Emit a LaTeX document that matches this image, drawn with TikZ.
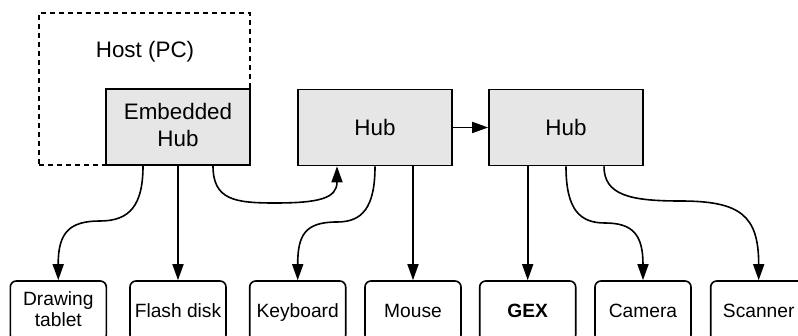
\documentclass[tikz,border=0pt]{standalone}
\usepackage{fontspec}
\setmainfont{Liberation Sans}
\usetikzlibrary{arrows.meta}
\definecolor{hubfill}{HTML}{E6E6E6}
\newcommand{\mystrut}{\rule[-0.19em]{0pt}{1.09em}}
\begin{document}
\begin{tikzpicture}[x=1pt,y=-1pt,
  bigtext/.style={font=\fontsize{22.4}{27}\selectfont, align=center},
  smalltext/.style={font=\fontsize{19.2}{21}\selectfont, align=center},
  hubbox/.style={draw, line width=1.6pt, fill=hubfill, minimum height=76pt, inner sep=0pt, bigtext, execute at begin node=\mystrut, execute at end node=\mystrut},
  devbox/.style={draw, line width=1.6pt, rounded corners=6pt, minimum width=96pt, minimum height=60pt, inner sep=0pt, smalltext, execute at begin node=\mystrut, execute at end node=\mystrut},
  conn/.style={line width=1.6pt, -{Triangle[length=16pt,width=11pt]}}]
\clip (0,0) rectangle (798,336);
\useasboundingbox (0,0) rectangle (798,336);
% host
\node[draw, dashed, dash pattern=on 5pt off 4pt, line width=1.6pt, minimum width=211pt, minimum height=152pt, inner sep=0pt] (host) at (144.5,89) {};
\node[bigtext] (hostlabel) at (145,50) {\mystrut Host (PC)};
% hubs
\node[hubbox, minimum width=144pt] (emb) at (178,127) {Embedded\\Hub};
\node[hubbox, minimum width=154pt] (hubA) at (375,127.5) {Hub};
\node[hubbox, minimum width=154pt] (hubB) at (566,127.5) {Hub};
% devices
\node[devbox] (tablet) at (58.3,311) {Drawing\\tablet};
\node[devbox] (flash) at (178,311) {Flash disk};
\node[devbox] (kbd) at (297.7,311) {Keyboard};
\node[devbox] (mouse) at (413,311) {Mouse};
\node[devbox] (gex) at (527.7,311) {\bfseries GEX};
\node[devbox] (camera) at (643,311) {Camera};
\node[devbox] (scanner) at (758.7,311) {Scanner};
% connectors
\draw[conn] ([xshift=-35pt]emb.south) .. controls (143,205) and (130,221) .. (100,221) .. controls (70,221) and (58,232) .. (tablet.north);
\draw[conn] (flash.north |- emb.south) -- (flash.north);
\draw[conn] ([xshift=35pt]emb.south) .. controls (213,200) and (235,203) .. (275,203) .. controls (320,203) and (337,198) .. ([xshift=-38pt]hubA.south);
\draw[conn] (hubA.south) .. controls (375,208) and (362,222) .. (337,222) .. controls (305,222) and (297.7,235) .. (kbd.north);
\draw[conn] (mouse.north |- hubA.south) -- (mouse.north);
\draw[conn] (hubA.east) -- (hubB.west);
\draw[conn] (gex.north |- hubB.south) -- (gex.north);
\draw[conn] (hubB.south) .. controls (566,210) and (580,223) .. (605,223) .. controls (633,223) and (643,235) .. (camera.north);
\draw[conn] ([xshift=38pt]hubB.south) .. controls (604,195) and (630,201) .. (680,201) .. controls (740,201) and (758.7,215) .. (scanner.north);
\end{tikzpicture}
\end{document}
